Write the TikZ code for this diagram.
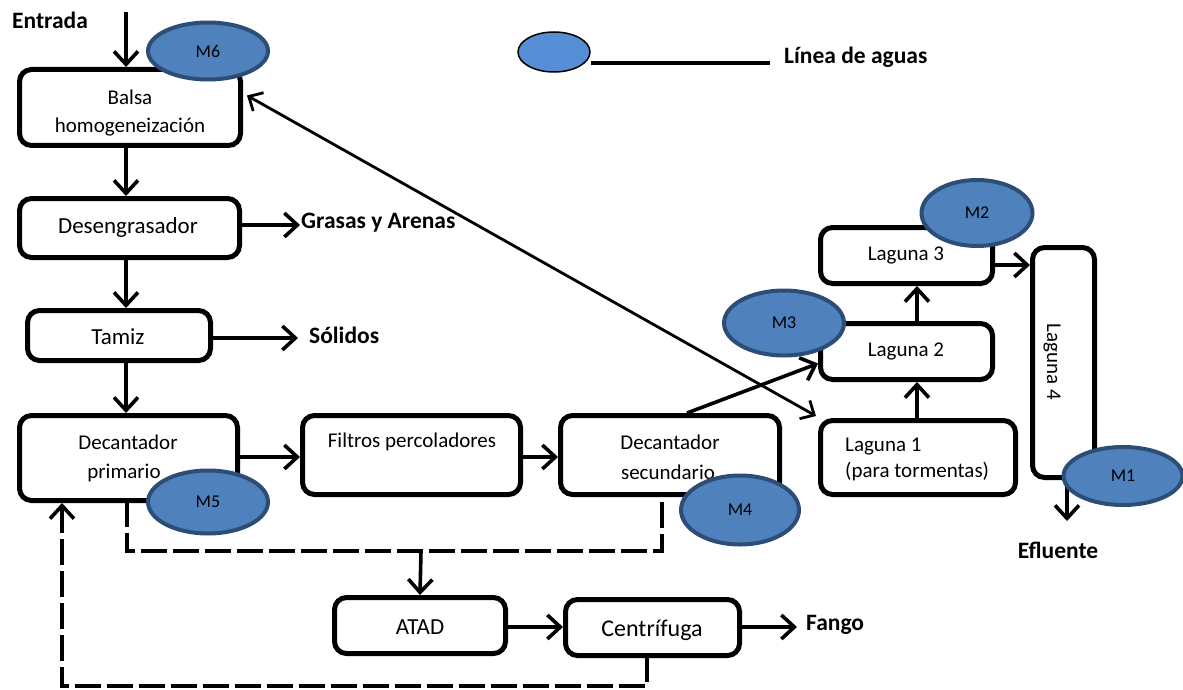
\documentclass[tikz,border=0pt]{standalone}
\usepackage{fontspec}
\setmainfont{Carlito}
\usetikzlibrary{arrows.meta,shapes.geometric}
\definecolor{mfill}{HTML}{4F81BD}
\definecolor{mdraw}{HTML}{2C4D75}
\definecolor{legfill}{HTML}{558ED5}
\tikzset{
  stage/.style={draw, line width=5pt, rounded corners=12pt, inner sep=0pt, fill=white},
  point/.style={ellipse, draw=mdraw, fill=mfill, line width=4pt, inner sep=0pt,
                font=\fontsize{18}{21}\selectfont},
  barb/.tip={Straight Barb[length=13pt,width=24pt]},
  flow/.style={line width=3.6pt, -barb},
  link/.style={line width=2.8pt, {Straight Barb[length=11pt,width=21pt]}-{Straight Barb[length=11pt,width=21pt]}},
  sludge/.style={line width=3.6pt, dash pattern=on 22pt off 10pt},
  tag/.style={font=\bfseries\fontsize{23.5}{27}\selectfont, inner sep=0pt},
  txt/.style={inner sep=0pt, align=center, font=\fontsize{21}{25}\selectfont},
  bigtxt/.style={inner sep=0pt, align=center, font=\fontsize{23}{27}\selectfont}
}
\begin{document}
\begin{tikzpicture}[x=1pt,y=-1pt]
\useasboundingbox (0,0) rectangle (1183,690);

% process units
\node[stage, minimum width=221pt, minimum height=76pt] (balsa) at (130,107.5) {};
\node[stage, minimum width=220pt, minimum height=59pt] (des) at (129.5,228) {};
\node[stage, minimum width=183pt, minimum height=50pt] (tamiz) at (119,335.5) {};
\node[stage, minimum width=218pt, minimum height=85pt] (dp) at (128.5,458) {};
\node[stage, minimum width=218pt, minimum height=79pt] (filt) at (411.5,455) {};
\node[stage, minimum width=219pt, minimum height=79pt] (ds) at (670,455) {};
\node[stage, minimum width=195pt, minimum height=74pt] (lag1) at (918,457.5) {};
\node[stage, minimum width=172pt, minimum height=56pt] (lag2) at (906.5,351.5) {};
\node[stage, minimum width=172pt, minimum height=56pt] (lag3) at (906.5,255.5) {};
\node[stage, minimum width=62pt, minimum height=230pt] (lag4) at (1063.5,362.5) {};
\node[stage, minimum width=171pt, minimum height=56pt] (atad) at (420,625.5) {};
\node[stage, minimum width=174pt, minimum height=56pt] (cf) at (652.5,627.5) {};

% unit texts
\node[txt] (balsa-t1) at (130,97) {Balsa};
\node[txt] (balsa-t2) at (130,127) {homogeneización};
\node[bigtxt] (des-t) at (128,227) {Desengrasador};
\node[bigtxt] (tamiz-t) at (118,337) {Tamiz};
\node[txt] (dp-t1) at (128,442) {Decantador};
\node[txt] (dp-t2) at (124,473) {primario};
\node[txt] (filt-t) at (412,442) {Filtros percoladores};
\node[txt] (ds-t1) at (670,442) {Decantador};
\node[txt] (ds-t2) at (668,472) {secundario};
\node[txt, anchor=west] (lag1-t1) at (845,447) {Laguna 1};
\node[txt, anchor=west] (lag1-t2) at (845,472) {(para tormentas)};
\node[txt] (lag2-t) at (906,351) {Laguna 2};
\node[txt] (lag3-t) at (906,255) {Laguna 3};
\node[txt, rotate=-90] (lag4-t) at (1052,362) {Laguna 4};
\node[bigtxt] (atad-t) at (420,627) {ATAD};
\node[bigtxt, font=\fontsize{24}{28}\selectfont] (cf-t) at (652,630) {Centrífuga};

% outside labels
\node[tag] (entrada) at (50,20) {Entrada};
\node[tag, anchor=west] (grasas) at (301,223) {Grasas y Arenas};
\node[tag, anchor=west] (solidos) at (309,335) {Sólidos};
\node[tag, anchor=west] (fango) at (806,625) {Fango};
\node[tag] (efluente) at (1058,550) {Efluente};

% key
\node[ellipse, draw=black, fill=legfill, line width=1.5pt, minimum width=72pt, minimum height=40pt, inner sep=0pt] (key) at (554,52) {};
\node[tag, anchor=west] (key-t) at (784,57) {Línea de aguas};
\draw[line width=4pt] (key.east |- 0,63) -- (770,63);

% column of the water line
\coordinate (colA) at (126,0);
\coordinate (feed) at (126,12);

% water line
\draw[flow] (feed) -- (balsa.north -| colA);
\draw[flow] (balsa.south -| colA) -- (des.north -| colA);
\draw[flow] (des.south -| colA) -- (tamiz.north -| colA);
\draw[flow] (tamiz.south -| colA) -- (dp.north -| colA);
\draw[flow] (des.east |- 0,225) -- ([xshift=-1pt]grasas.west |- 0,225);
\draw[flow] (tamiz.east |- 0,338) -- ([xshift=-11pt]solidos.west |- 0,338);
\draw[flow] (dp.east |- 0,457) -- (filt.west |- 0,457);
\draw[flow] (filt.east |- 0,457) -- (ds.west |- 0,457);
\draw[flow] ([xshift=17pt]ds.north) -- ([yshift=-12pt]lag2.west);
\draw[flow] (lag1.north -| 917,0) -- (lag2.south -| 917,0);
\draw[flow] (lag2.north -| 917,0) -- (lag3.south -| 917,0);
\draw[flow] (lag3.east |- 0,265) -- (lag4.west |- 0,265);
\coordinate (out) at (1067,521);
\draw[flow] (lag4.south -| out) -- (out);
\draw[link] ([xshift=4pt,yshift=12pt]balsa.east) -- ([xshift=-2pt,yshift=2pt]lag1.north west);

% sludge line
\coordinate (sj) at (421,551);
\draw[sludge, line cap=rect] (dp.south -| 127,0) |- (sj) -| (ds.south -| 662,0);
\draw[flow] (sj) -- (atad.north);
\draw[flow] (atad.east |- 0,627) -- (cf.west |- 0,627);
\draw[flow] (cf.east |- 0,627) -- ([xshift=-9pt]fango.west |- 0,627);
\coordinate (rb) at (62,686);
\draw[sludge, line cap=rect, -barb] (cf.south -| 647,0) |- (rb) -- (dp.south -| rb);

% sampling points
\node[point, minimum width=120pt, minimum height=57pt] (m6) at (208,51) {M6};
\node[point, minimum width=120pt, minimum height=63pt] (m5) at (208,502) {M5};
\node[point, minimum width=118pt, minimum height=69pt] (m4) at (740,510) {M4};
\node[point, minimum width=120pt, minimum height=65pt] (m3) at (784,323) {M3};
\node[point, minimum width=111pt, minimum height=66pt] (m2) at (977,213) {M2};
\node[point, minimum width=119pt, minimum height=58pt] (m1) at (1123,476) {M1};
\end{tikzpicture}
\end{document}
